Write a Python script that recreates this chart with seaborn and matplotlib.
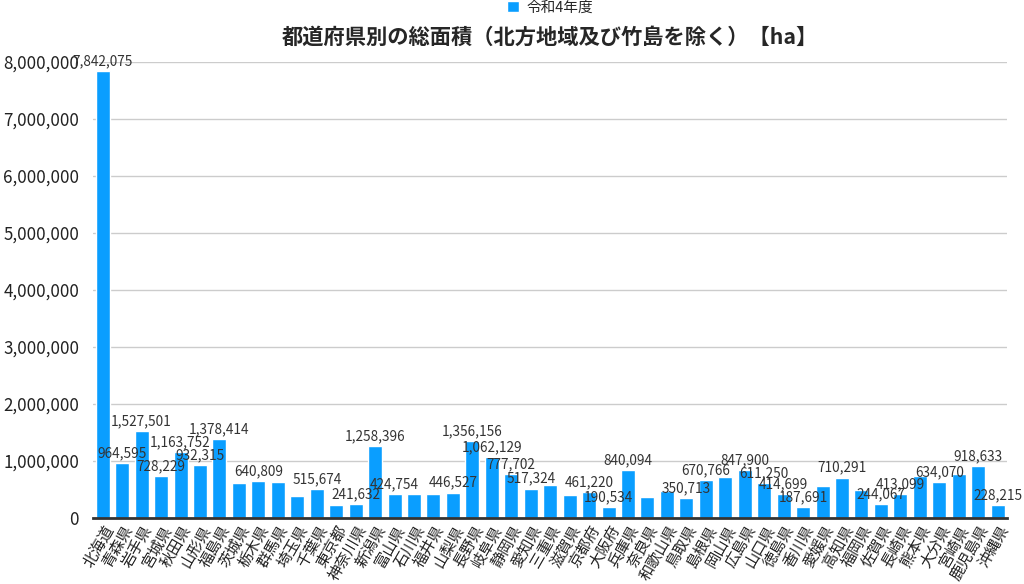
import pandas as pd
import matplotlib.pyplot as plt
import seaborn as sns
from matplotlib.ticker import FuncFormatter

prefectures = ['北海道', '青森県', '岩手県', '宮城県', '秋田県', '山形県', '福島県', '茨城県',
               '栃木県', '群馬県', '埼玉県', '千葉県', '東京都', '神奈川県', '新潟県', '富山県',
               '石川県', '福井県', '山梨県', '長野県', '岐阜県', '静岡県', '愛知県', '三重県',
               '滋賀県', '京都府', '大阪府', '兵庫県', '奈良県', '和歌山県', '鳥取県', '島根県',
               '岡山県', '広島県', '山口県', '徳島県', '香川県', '愛媛県', '高知県', '福岡県',
               '佐賀県', '長崎県', '熊本県', '大分県', '宮崎県', '鹿児島県', '沖縄県']
area_ha = [7842075, 964595, 1527501, 728229, 1163752, 932315, 1378414, 609762,
           640809, 636228, 379775, 515674, 219405, 241632, 1258396, 424754,
           418604, 419086, 446527, 1356156, 1062129, 777702, 517324, 577442,
           401738, 461220, 190534, 840094, 369094, 472470, 350713, 670766,
           711450, 847900, 611250, 414699, 187691, 567589, 710291, 498751,
           244067, 413099, 740914, 634070, 773514, 918633, 228215]
# bars that carry a value label in the original
labelled = [0, 1, 2, 3, 4, 5, 6, 8, 11, 13, 14, 15, 18, 19, 20, 21, 22, 25, 26, 27,
            30, 31, 33, 34, 35, 36, 38, 40, 41, 43, 45, 46]
series_name = '令和4年度'
title = '都道府県別の総面積（北方地域及び竹島を除く）【ha】'

df = pd.DataFrame({'県': prefectures, '面積': area_ha, '年度': series_name})

sns.set_theme(style='white')
plt.rcParams['font.family'] = ['Noto Sans CJK JP', 'DejaVu Sans']

fig = plt.figure(figsize=(10.24, 5.84), dpi=100)
ax = fig.add_axes([0.0908, 0.113, 0.893, 0.781])

sns.barplot(data=df, x='県', y='面積', hue='年度', palette=['#0A9EFF'],
            width=0.72, ax=ax, saturation=1)

ax.set_ylim(0, 8000000)
ax.set_yticks(range(0, 8000001, 1000000))
ax.yaxis.set_major_formatter(FuncFormatter(lambda v, p: f'{int(v):,}'))
ax.grid(axis='y', color='#cccccc', linewidth=1)
ax.set_axisbelow(True)
for s in ['top', 'right', 'left']:
    ax.spines[s].set_visible(False)
ax.spines['bottom'].set_color('#333333')
ax.spines['bottom'].set_linewidth(2)
ax.tick_params(axis='y', length=0, labelsize=12.2, pad=10, labelcolor='#222222')
ax.tick_params(axis='x', length=0, labelsize=11, pad=3, labelcolor='#222222')
ax.set_xlim(-0.5, 46.5)
plt.setp(ax.get_xticklabels(), rotation=60, ha='right', rotation_mode='anchor')
ax.set_xlabel('')
ax.set_ylabel('')

for i in labelled:
    ax.annotate(f'{area_ha[i]:,}', (i, area_ha[i]), xytext=(0, 2),
                textcoords='offset points', ha='center', va='bottom',
                fontsize=9.8, color='#333333')

ax.set_title(title, fontsize=15.3, fontweight='bold', pad=13)
sns.move_legend(ax, 'lower center', bbox_to_anchor=(0.5, 1.075), frameon=False,
                title=None, fontsize=10.5, handlelength=0.8, handleheight=0.8,
                handletextpad=0.5)

fig.savefig('out.png', dpi=100)
